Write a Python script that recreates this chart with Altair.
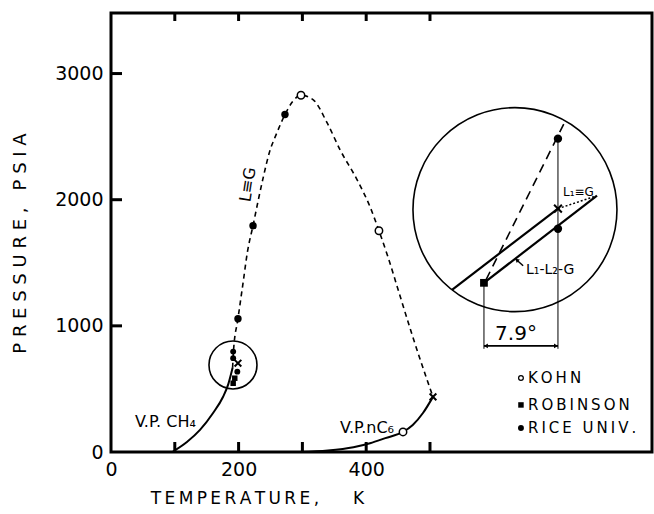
import altair as alt
import pandas as pd

FONT = "DejaVu Sans"
TS = "\u2009"   # thin space used for letter spacing in the lettered titles

# ---- main diagram: temperature (K) vs pressure (psia) ----
# critical locus L = G (dashed), from the CH4 end to the nC6 critical point
locus_T = [190.6, 192, 199, 207, 214, 222.6, 231, 239, 248, 260, 272.7, 285, 297.8,
           316.6, 338.6, 358.9, 385.6, 406, 420, 434, 453, 473, 495, 504.7]
locus_P = [667, 800, 1056, 1340, 1590, 1794, 2000, 2185, 2370, 2530, 2675, 2780, 2828,
           2794, 2611, 2397, 2159, 1944, 1754, 1548, 1238, 913, 579, 437]

# vapour pressure curves
ch4_T = [96, 119, 139.5, 160, 175.5, 184, 190.6]
ch4_P = [0, 79, 175, 309, 436, 540, 667]
c6_T = [296, 340, 380, 406, 430, 457.7, 473, 489, 504.7]
c6_P = [0, 12, 38, 70, 110, 159, 214, 309, 437]

# experimental points
kohn_T = [297.8, 420, 457.7]
kohn_P = [2828, 1754, 159]
robinson_T = [194, 191.5]
robinson_P = [585, 545]
rice_T = [199, 222.6, 272.7, 191.5, 191.5, 198]
rice_P = [1056, 1794, 2675, 796, 744, 637]
endpoint_T = [504.7, 199]
endpoint_P = [437, 704]

# axis ticks and labelled values
x_ticks = [100, 200, 300, 400, 500]
x_labels = [0, 200, 400]
y_ticks = [1000, 2000, 3000]
y_labels = [0, 1000, 2000, 3000]

# ---- enlarged detail of the CH4 end (drawn in the open area at right) ----
inset_dash_T = [587.8, 713.2]
inset_dash_P = [1365, 2635]
inset_upper_T = [534.5, 700.6]
inset_upper_P = [1286, 1929]
inset_lower_T = [584.6, 761.8]
inset_lower_P = [1341, 2032]
inset_dot_T = [700.6, 757]
inset_dot_P = [1929, 2024]
inset_rice_T = [700.6, 700.6]
inset_rice_P = [2484, 1770]
inset_rob_T = [584.6]
inset_rob_P = [1341]
inset_end_T = [700.6]
inset_end_P = [1929]
# vertical drop lines and the temperature-difference bracket
drop_T = [700.6, 584.6]
drop_top = [2484, 1341]
drop_bottom = [818, 818]
bracket_T = [584.6, 700.6]
bracket_P = 841

xs = alt.Scale(domain=[0, 848], nice=False, zero=False)
ys = alt.Scale(domain=[0, 3480], nice=False, zero=False)

x_axis = alt.Axis(
    orient="bottom", ticks=False, domain=False, grid=False, values=x_labels,
    labelFont=FONT, labelFontSize=19, labelColor="black", labelPadding=8, labelFlush=False,
    titleFont=FONT, titleFontSize=17, titleFontWeight="normal", titleColor="black",
    titleX=146, titleY=46, titleBaseline="middle", titleAlign="center",
)
y_axis = alt.Axis(
    orient="left", ticks=False, domain=False, grid=False, values=y_labels, format="d",
    labelFont=FONT, labelFontSize=19, labelColor="black", labelPadding=8,
    titleFont=FONT, titleFontSize=18, titleFontWeight="normal", titleColor="black",
    titleX=-91, titleY=230, titleAngle=270, titleBaseline="middle", titleAlign="center",
)
X_TITLE = TS.join("TEMPERATURE,") + "\u2003\u2003K"
Y_TITLE = " ".join("PRESSURE,") + "\u00a0\u00a0\u00a0" + " ".join("PSIA")

X = alt.X("T:Q", scale=xs, axis=x_axis, title=X_TITLE)
Y = alt.Y("P:Q", scale=ys, axis=y_axis, title=Y_TITLE)


def df(T, P, **kw):
    return pd.DataFrame(dict(T=T, P=P, **kw))


locus = alt.Chart(df(locus_T, locus_P)).mark_line(
    color="black", strokeWidth=1.6, strokeDash=[5, 4], interpolate="monotone"
).encode(x=X, y=Y)

vp = alt.Chart(pd.concat([df(ch4_T, ch4_P, c="ch4"), df(c6_T, c6_P, c="c6")])).mark_line(
    color="black", strokeWidth=2, interpolate="monotone"
).encode(x=X, y=Y, detail="c:N")

# inward ticks on the frame: bottom, top and left
tick_bottom = alt.Chart(pd.DataFrame(dict(T=x_ticks))).mark_rule(color="black", strokeWidth=3).encode(
    x=X, y=alt.value(439), y2=alt.value(429))
tick_top = alt.Chart(pd.DataFrame(dict(T=x_ticks))).mark_rule(color="black", strokeWidth=3).encode(
    x=X, y=alt.value(0), y2=alt.value(8))
tick_left = alt.Chart(pd.DataFrame(dict(P=y_ticks))).mark_rule(color="black", strokeWidth=3).encode(
    y=Y, x=alt.value(0), x2=alt.value(11))

small_ring = alt.Chart(df([191.2], [690])).mark_point(
    shape="circle", filled=False, size=2304, color="black", strokeWidth=1.6, opacity=1
).encode(x=X, y=Y)
big_ring = alt.Chart(df([633.2], [1921])).mark_point(
    shape="circle", filled=False, size=41616, color="black", strokeWidth=1.6, opacity=1
).encode(x=X, y=Y)

inset_dash = alt.Chart(df(inset_dash_T, inset_dash_P)).mark_line(
    color="black", strokeWidth=1.6, strokeDash=[9, 6]
).encode(x=X, y=Y)
inset_solid = alt.Chart(pd.concat([df(inset_upper_T, inset_upper_P, s="u"),
                                   df(inset_lower_T, inset_lower_P, s="l")])).mark_line(
    color="black", strokeWidth=2.2
).encode(x=X, y=Y, detail="s:N")
inset_dotted = alt.Chart(df(inset_dot_T, inset_dot_P)).mark_line(
    color="black", strokeWidth=1.5, strokeDash=[2, 2]
).encode(x=X, y=Y)

drops = alt.Chart(pd.DataFrame(dict(T=drop_T, P=drop_top, P2=drop_bottom))).mark_rule(
    color="black", strokeWidth=1
).encode(x=X, y=Y, y2="P2:Q")
bracket = alt.Chart(pd.DataFrame(dict(T=[bracket_T[0]], T2=[bracket_T[1]], P=[bracket_P]))).mark_rule(
    color="black", strokeWidth=1.6
).encode(x=X, x2="T2:Q", y=Y)
bracket_heads = alt.Chart(df([bracket_T[0] + 3, bracket_T[1] - 3], [bracket_P] * 2,
                             sh=["triangle-left", "triangle-right"])).mark_point(
    filled=True, color="black", size=22, opacity=1
).encode(x=X, y=Y, shape=alt.Shape("sh:N", scale=None, legend=None))

X_PATH = "M-1,-1L1,1M1,-1L-1,1"


def markers(T, P, kind, size):
    c = alt.Chart(df(T, P))
    if kind == "open":
        m = c.mark_point(shape="circle", filled=True, fill="white",
                         stroke="black", strokeWidth=1.5, size=size, opacity=1)
    elif kind == "dot":
        m = c.mark_point(shape="circle", filled=True, color="black", size=size, opacity=1)
    elif kind == "square":
        m = c.mark_point(shape="square", filled=True, color="black", size=size, opacity=1)
    else:
        m = c.mark_point(shape=X_PATH, filled=False, color="black",
                         strokeWidth=2, size=size, opacity=1)
    return m.encode(x=X, y=Y)


pts = [
    markers(kohn_T, kohn_P, "open", 55),
    markers(robinson_T, robinson_P, "square", 30),
    markers(rice_T[:3], rice_P[:3], "dot", 55),
    markers(rice_T[3:], rice_P[3:], "dot", 35),
    markers(endpoint_T, endpoint_P, "x", 45),
    markers(inset_rice_T, inset_rice_P, "dot", 70),
    markers(inset_rob_T, inset_rob_P, "square", 60),
    markers(inset_end_T, inset_end_P, "x", 60),
]

# arrow from the L1-L2-G label to the three-phase line
lab_arrow = alt.Chart(pd.DataFrame(dict(T=[646.0], P=[1476], T2=[636.0], P2=[1522]))).mark_rule(
    color="black", strokeWidth=1.5
).encode(x=X, y=Y, x2="T2:Q", y2="P2:Q")
lab_head = alt.Chart(df([636.0], [1522])).mark_point(
    shape="triangle-up", angle=311, filled=True, color="black", size=22, opacity=1
).encode(x=X, y=Y)


def text(T, P, s, size, align="left", angle=0):
    return alt.Chart(pd.DataFrame(dict(T=[T], P=[P], s=[s]))).mark_text(
        font=FONT, fontSize=size, color="black", align=align, baseline="middle", angle=angle
    ).encode(x=X, y=Y, text="s:N")


labels = [
    text(37.6, 238, "V.P. CH\u2084", 16),
    text(359, 190, "V.P.nC\u2086", 16),
    text(214.7, 2119, "L\u2261G", 16, align="center", angle=279),
    text(708.5, 2058, "L\u2081\u2261G", 12),
    text(650.5, 1444, "L\u2081-L\u2082-G", 14),
    text(634.8, 935, "7.9\u00b0", 20, align="center"),
]

# key to the data sources
key_T_sym = 642.6
key_T_txt = 653.6
key_P = [587, 373, 190]
key_names = ["KOHN", "ROBINSON", "RICE UNIV."]
key_sym = [
    alt.Chart(df([key_T_sym], [key_P[0]])).mark_point(shape="circle", filled=False, color="black",
                                                      strokeWidth=1.3, size=22, opacity=1).encode(x=X, y=Y),
    alt.Chart(df([key_T_sym], [key_P[1]])).mark_point(shape="square", filled=True, color="black",
                                                      size=30, opacity=1).encode(x=X, y=Y),
    alt.Chart(df([key_T_sym], [key_P[2]])).mark_point(shape="circle", filled=True, color="black",
                                                      size=35, opacity=1).encode(x=X, y=Y),
]
key_txt = alt.Chart(df([key_T_txt] * 3, key_P, s=[TS.join(n) for n in key_names])).mark_text(
    font=FONT, fontSize=15, color="black", align="left", baseline="middle"
).encode(x=X, y=Y, text="s:N")

chart = alt.layer(
    locus, vp, tick_bottom, tick_top, tick_left, small_ring, big_ring, inset_dash, inset_solid,
    inset_dotted, drops, bracket, bracket_heads, lab_arrow, lab_head, *pts, *labels, *key_sym, key_txt
).properties(
    width=541, height=439,
    autosize=alt.AutoSizeParams(type="none"),
    padding={"left": 111, "top": 13, "right": 2, "bottom": 62},
    background="white",
).configure_view(stroke="black", strokeWidth=3)

chart.save("out.html", embed_options={"renderer": "svg", "actions": False})
